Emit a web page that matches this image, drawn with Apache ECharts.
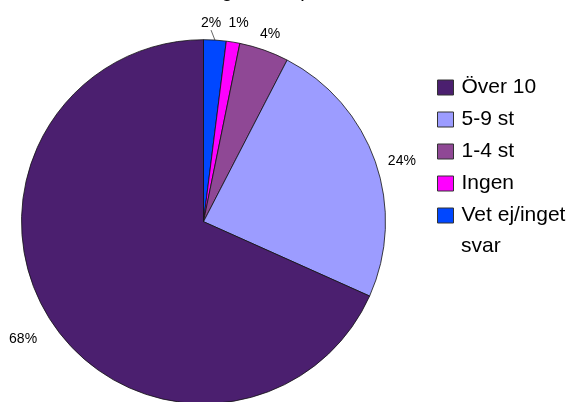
<!DOCTYPE html>
<html>
<head>
<meta charset="utf-8">
<script src="https://cdn.jsdelivr.net/npm/echarts@6/dist/echarts.min.js"></script>
<style>
html,body{margin:0;padding:0;background:#fff;}
#chart{width:573px;height:402px;}
</style>
</head>
<body>
<div id="chart"></div>
<script>
// Categories in drawing order (clockwise from 12 o'clock)
const categories = ['Vet ej/inget svar', 'Ingen', '1-4 st', '5-9 st', 'Över 10'];
const values = [2.0, 1.2, 4.4, 24.1, 68.3];
// Legend order
const legendOrder = ['Över 10', '5-9 st', '1-4 st', 'Ingen', 'Vet ej/inget svar'];
const titleText = 'Antal dagar med prov';

const colors = {
  'Vet ej/inget svar': '#0047FF',
  'Ingen': '#FF00FF',
  '1-4 st': '#8F4895',
  '5-9 st': '#9C9CFF',
  'Över 10': '#4B1F6F'
};

// Style: extra distance (px) of each label centre beyond the pie rim, plus small nudges
const labelGap = [18, 21, 18, 26, 33];
const labelNudgeX = [-5, 2, 0, 2, 0];
const labelNudgeY = [1, 2, 1, 8, 1];

const CX = 203.5, CY = 221.7, R = 182;

const chart = echarts.init(document.getElementById('chart'), null, {renderer: 'canvas'});

const total = values.reduce((a, b) => a + b, 0);
const midAngles = [];
let acc = 0;
values.forEach(v => { midAngles.push((acc + v / 2) / total * Math.PI * 2); acc += v; });

const data = categories.map((c, i) => ({
  name: c,
  value: values[i],
  itemStyle: {color: colors[c]},
  labelLine: {show: i === 0}
}));

chart.setOption({
  animation: false,
  backgroundColor: '#fff',
  title: {
    text: titleText,
    left: 143,
    top: -24,
    textStyle: {fontFamily: 'Liberation Sans', fontSize: 20, fontWeight: 'normal', color: '#000'}
  },
  legend: {
    orient: 'vertical',
    left: 437,
    top: 77,
    padding: 0,
    icon: 'rect',
    itemWidth: 16,
    itemHeight: 15,
    itemGap: 11,
    data: legendOrder,
    formatter: n => n === 'Vet ej/inget svar' ? 'Vet ej/inget' : n,
    itemStyle: {borderColor: '#333', borderWidth: 1},
    textStyle: {fontFamily: 'Liberation Sans', fontSize: 21, color: '#000', padding: [0, 0, 0, 3]},
    selectedMode: false
  },
  graphic: [{
    type: 'text',
    left: 461,
    top: 236,
    style: {text: 'svar', fontFamily: 'Liberation Sans', fontSize: 21, fill: '#000'}
  }],
  series: [{
    type: 'pie',
    center: [CX, CY],
    radius: R,
    startAngle: 90,
    clockwise: true,
    avoidLabelOverlap: false,
    data: data,
    itemStyle: {borderColor: '#111', borderWidth: 0.8},
    label: {
      show: true,
      position: 'outside',
      formatter: p => Math.round(p.percent) + '%',
      fontFamily: 'Liberation Sans',
      fontSize: 14,
      color: '#000'
    },
    labelLine: {show: false, length: 4, length2: 0, lineStyle: {color: '#666', width: 1}},
    labelLayout: function (params) {
      const i = params.dataIndex;
      const a = midAngles[i];
      const d = R + labelGap[i];
      return {
        x: CX + Math.sin(a) * d + labelNudgeX[i],
        y: CY - Math.cos(a) * d + labelNudgeY[i],
        align: 'center',
        verticalAlign: 'middle'
      };
    },
    emphasis: {disabled: true}
  }]
});
</script>
</body>
</html>
